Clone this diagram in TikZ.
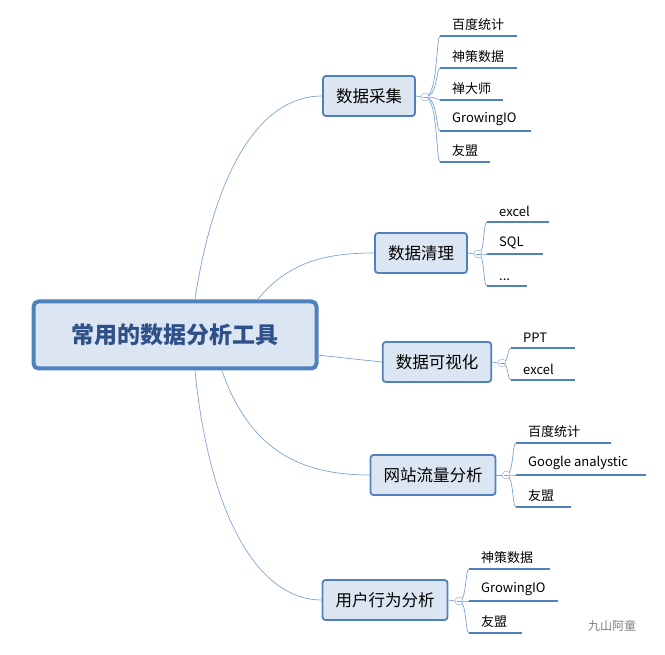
\documentclass[tikz,border=0pt]{standalone}
\usepackage{fontspec}
\setmainfont{Noto Sans CJK SC}
\definecolor{edge}{HTML}{4F81BD}
\definecolor{boxfill}{HTML}{DCE6F2}
\definecolor{rootfont}{HTML}{2F5088}
\definecolor{twig}{HTML}{7FA3CF}
\newcommand\threedots{.\kern0pt.\kern0pt.}
\begin{document}
\begin{tikzpicture}[x=1pt, y=-1pt,
  root/.style = {draw=edge, fill=boxfill, line width=4pt, rounded corners=5pt, minimum width=283pt, minimum height=67pt, font=\fontsize{23}{23}\selectfont\bfseries, text=rootfont},
  topic/.style = {draw=edge, fill=boxfill, line width=1.8pt, rounded corners=3pt, minimum height=40pt, inner xsep=13pt, font=\fontsize{16.5}{16.5}\selectfont},
  knob/.style = {draw=twig, circle, fill=white, inner sep=0pt, minimum size=8pt},
  leaf/.style = {anchor=south west, inner xsep=0pt, inner ysep=5pt, font=\fontsize{13}{13}\selectfont},
  branch/.style = {draw=twig, line width=0.7pt},
  underline/.style = {draw=edge, line width=2.6pt}]
\useasboundingbox (0,0) rectangle (665,655);
\node[root] (root) at (175,335) {常用的数据分析工具};
\node[topic] (cj) at (369,96) {数据采集};
\node[topic] (ql) at (421,253) {数据清理};
\node[topic] (ks) at (437,362) {数据可视化};
\node[topic] (wz) at (433,475) {网站流量分析};
\node[topic] (yh) at (385,600) {用户行为分析};
% main branches
\coordinate (r1) at (195,299);
\coordinate (r2) at (258,299);
\coordinate (r3) at (317,355);
\coordinate (r4) at (222,371);
\coordinate (r5) at (195,371);
\draw[branch] (r1) .. controls (215,170) and (260,96) .. (cj.west);
\draw[branch] (r2) .. controls (290,260) and (330,253) .. (ql.west);
\draw[branch] (r3) .. controls (350,358) .. (ks.west);
\draw[branch] (r4) .. controls (250,450) and (300,475) .. (wz.west);
\draw[branch] (r5) .. controls (210,520) and (260,600) .. (yh.west);
% leaves
\foreach \nm/\x/\y/\xs/\items in {
  cj/425/97/440/{36/517/百度统计,68/517/神策数据,100/503/禅大师,131/531/GrowingIO,162/490/友盟},
  ql/478/254/487/{222/549/excel,254/543/SQL,286/527/\threedots},
  ks/502/363/511/{348/575/PPT,380/575/excel},
  wz/506/475/516/{443/611/百度统计,475/646/Google analystic,507/571/友盟},
  yh/459/601/469/{569/550/神策数据,601/558/GrowingIO,633/522/友盟}} {
  \draw[branch] (\nm.east) -- (\x-4,\y);
  \foreach \ly/\lx/\txt [count=\i] in \items {
    \coordinate (\nm-s\i) at (\xs,\ly);
    \coordinate (\nm-e\i) at (\lx,\ly);
    \draw[branch] (\x,\y) .. controls (\xs-2,\y) and (\xs-4,\ly) .. (\nm-s\i);
    \draw[underline] (\nm-s\i) -- (\nm-e\i);
    \node[leaf] (\nm-t\i) at (\xs+12,\ly) {\txt};
  }
  \node[knob] (\nm-k) at (\x,\y) {};
  \draw[twig, line width=0.5pt] (\x-2.5,\y) -- (\x+2.5,\y);
}
\node[text=gray, font=\fontsize{12}{12}\selectfont] (mark) at (612,626) {九山阿童};
\end{tikzpicture}
\end{document}
